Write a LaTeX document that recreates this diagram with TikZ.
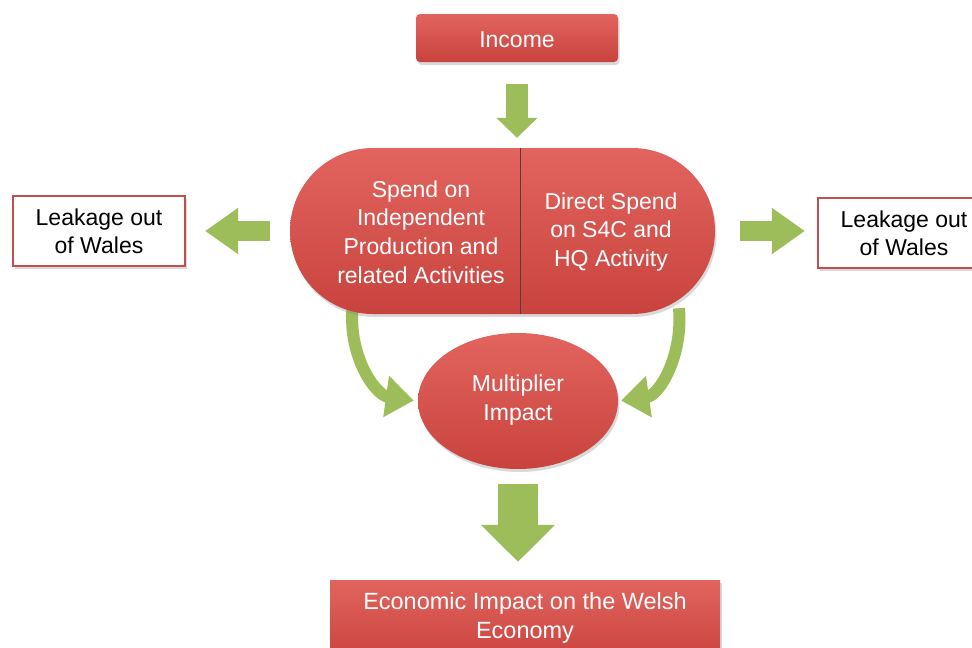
\documentclass[tikz,border=0pt]{standalone}
\usepackage{fontspec}
\setmainfont{Liberation Sans}
\usetikzlibrary{arrows.meta,shapes.geometric,shapes.misc,shadows}
\definecolor{redtop}{HTML}{E2645E}
\definecolor{redbot}{HTML}{C9433E}
\definecolor{redline}{HTML}{C0504D}
\definecolor{greenarrow}{HTML}{9DBD5A}
\definecolor{divider}{HTML}{5A3A3A}
\pgfdeclarelayer{bg}
\pgfsetlayers{bg,main}
\begin{document}
\begin{tikzpicture}[x=1pt,y=-1pt,
  redblock/.style={shading=axis,top color=redtop,bottom color=redbot,
    draw=none,inner sep=0pt,
    drop shadow={opacity=0.3,shadow xshift=1.5pt,shadow yshift=-3pt}},
  whitetext/.style={text=white,align=center,inner sep=0pt,
    font=\fontsize{23}{28.8}\selectfont},
  leakbox/.style={draw=redline,line width=2.2pt,fill=white,
    minimum width=172pt,minimum height=70pt,inner sep=0pt,align=center,
    font=\fontsize{23}{28}\selectfont,
    drop shadow={opacity=0.3,shadow xshift=1.5pt,shadow yshift=-3pt}},
  blockarrow/.style={draw=greenarrow,line width=#1},
  curvearrow/.style={draw=greenarrow,line width=12pt,
    -{Triangle[width=40pt,length=28pt]}}
]
\useasboundingbox (0,0) rectangle (972,648);

% top income box
\node[redblock,rounded corners=4pt,minimum width=202pt,minimum height=48pt]
  (income) at (517,38) {};
\node[whitetext,font=\fontsize{23}{26}\selectfont] (incometext) at (517,40) {Income};

% central split pill
\node[redblock,rounded rectangle,rounded rectangle right arc=none,
  minimum width=230pt,minimum height=166pt] (spend) at (405,231) {};
\node[redblock,rounded rectangle,rounded rectangle left arc=none,
  minimum width=195pt,minimum height=166pt] (direct) at (617.5,231) {};
\draw[divider,line width=0.8pt] (spend.north east) -- (spend.south east);
\node[whitetext] (spendtext) at (421,232)
  {Spend on\\Independent\\Production and\\related Activities};
\node[whitetext] (directtext) at (611,232)
  {Direct Spend\\on S4C and\\HQ Activity};

% leakage boxes
\node[leakbox] (leakleft) at (99,231) {Leakage out\\of Wales};
\node[leakbox] (leakright) at (904,233) {Leakage out\\of Wales};

% multiplier ellipse
\node[redblock,ellipse,minimum width=200pt,minimum height=136pt]
  (mult) at (518,401) {};
\node[whitetext] (multtext) at (518,400) {Multiplier\\Impact};

% bottom result box
\node[redblock,minimum width=390pt,minimum height=80pt]
  (impact) at (525,620) {};
\node[whitetext,font=\fontsize{23.5}{28.5}\selectfont] (impacttext) at (525,618)
  {Economic Impact on the Welsh\\Economy};

% green block arrows
\begin{pgfonlayer}{bg}
\draw[blockarrow=22pt,-{Triangle[width=40pt,length=20pt]},
  shorten <=22pt,shorten >=10pt] (income.south) -- (income.south |- spend.north);
\draw[blockarrow=20pt,-{Triangle[width=44pt,length=33pt]},
  shorten <=20pt,shorten >=19pt] (spend.west) -- (leakleft.east);
\draw[blockarrow=20pt,-{Triangle[width=44pt,length=33pt]},
  shorten <=25pt,shorten >=12pt] (direct.east) -- (direct.east -| leakright.west);
\draw[blockarrow=40pt,-{Triangle[width=72pt,length=37pt]},
  shorten <=15pt,shorten >=18pt] (mult.south) -- (mult.south |- impact.north);
\draw[curvearrow,shorten <=-6pt,shorten >=4pt]
  ([xshift=-53pt]spend.south) to[out=-95,in=172] (mult.west);
\draw[curvearrow,shorten <=-6pt,shorten >=3pt]
  ([xshift=62pt]direct.south) to[out=-85,in=8] (mult.east);
\end{pgfonlayer}
\end{tikzpicture}
\end{document}
